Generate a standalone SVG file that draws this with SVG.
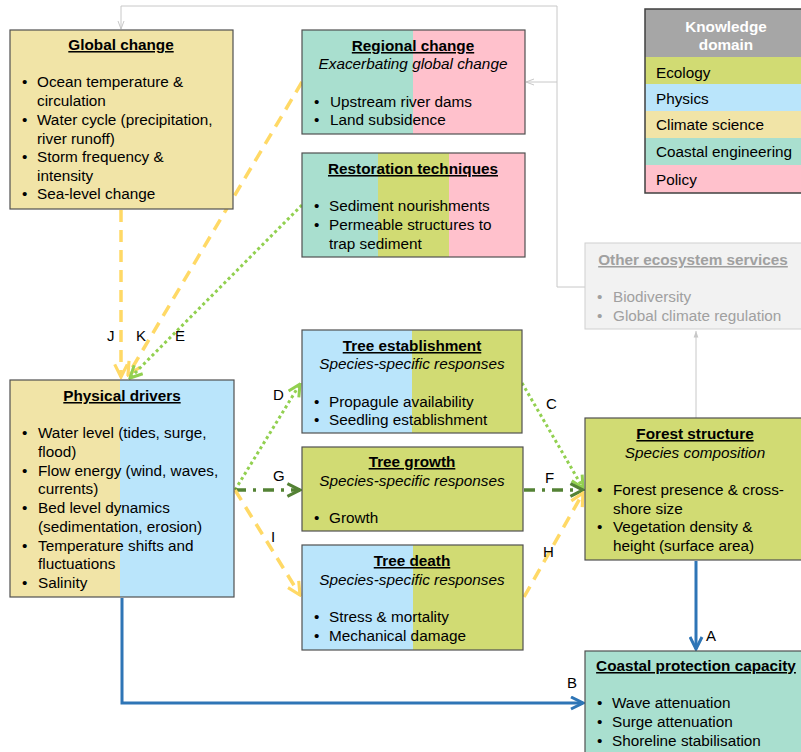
<svg xmlns="http://www.w3.org/2000/svg" width="801" height="752" viewBox="0 0 801 752">
<style>
text{font-family:"Liberation Sans",Arial,sans-serif;font-size:15.3px;fill:#000}
.t{font-weight:bold;text-decoration:underline;text-anchor:middle}
.s{font-style:italic;text-anchor:middle}
.c{text-anchor:middle}
.g{fill:#a0a0a0}
.box{fill:none;stroke:#505050;stroke-width:1.2}
.clim{fill:#f1e4a7}.phys{fill:#bae5fb}.eco{fill:#d1db73}.coast{fill:#a9dfcf}.pol{fill:#ffc1cc}
.yel{stroke:#ffd966;stroke-width:3.5;fill:none;stroke-dasharray:12 8}
.ltg{stroke:#92d050;stroke-width:3;fill:none;stroke-dasharray:3 3}
.dkg{stroke:#548235;stroke-width:3.5;fill:none;stroke-dasharray:11 7 3 7}
.blu{stroke:#2e75b6;stroke-width:3;fill:none}
.gry{stroke:#c8c8c8;stroke-width:1;fill:none}
.lbl{font-size:15px}
</style>
<defs>
<marker id="mY" viewBox="0 0 10 10" refX="9" refY="5" markerWidth="4.5" markerHeight="4.5" orient="auto"><path d="M1,1 L9,5 L1,9" fill="none" stroke="#ffd966" stroke-width="2"/></marker>
<marker id="mL" viewBox="0 0 10 10" refX="9" refY="5" markerWidth="5" markerHeight="5" orient="auto"><path d="M1,1 L9,5 L1,9" fill="none" stroke="#92d050" stroke-width="2"/></marker>
<marker id="mD" viewBox="0 0 10 10" refX="9" refY="5" markerWidth="4.5" markerHeight="4.5" orient="auto"><path d="M1,1 L9,5 L1,9" fill="none" stroke="#548235" stroke-width="2"/></marker>
<marker id="mB" viewBox="0 0 10 10" refX="9" refY="5" markerWidth="5" markerHeight="5" orient="auto"><path d="M1,1 L9,5 L1,9" fill="none" stroke="#2e75b6" stroke-width="2"/></marker>
<marker id="mG" viewBox="0 0 10 10" refX="9" refY="5" markerWidth="10" markerHeight="10" orient="auto"><path d="M1,2 L9,5 L1,8" fill="none" stroke="#c8c8c8" stroke-width="1"/></marker>
<marker id="mGf" viewBox="0 0 10 10" refX="9" refY="5" markerWidth="8" markerHeight="8" orient="auto"><path d="M1,2 L9,5 L1,8 Z" fill="#c8c8c8"/></marker>
</defs>

<g id="connectors">
<polyline class="gry" points="585,287 557,287 557,6 121,6 121,29" marker-end="url(#mG)"/>
<line class="gry" x1="557" y1="82" x2="526" y2="82" marker-end="url(#mG)"/>
<line class="gry" x1="696" y1="418" x2="696" y2="331" marker-end="url(#mGf)"/>
<line class="yel" x1="121" y1="210" x2="121" y2="377" marker-end="url(#mY)"/>
<line class="yel" x1="302" y1="82" x2="128" y2="375" marker-end="url(#mY)"/>
<line class="ltg" x1="302" y1="205" x2="130" y2="378" marker-end="url(#mL)"/>
<line class="ltg" x1="235" y1="490" x2="300" y2="384" marker-end="url(#mL)"/>
<line class="dkg" x1="235" y1="490" x2="300" y2="490" marker-end="url(#mD)"/>
<line class="yel" x1="235" y1="490" x2="300" y2="595" marker-end="url(#mY)"/>
<line class="ltg" x1="522" y1="383" x2="583" y2="488" marker-end="url(#mL)"/>
<line class="dkg" x1="524" y1="490" x2="583" y2="490" marker-end="url(#mD)"/>
<line class="yel" x1="524" y1="597" x2="583" y2="493" marker-end="url(#mY)"/>
<line class="blu" x1="696" y1="561" x2="696" y2="649" marker-end="url(#mB)"/>
<polyline class="blu" points="122,598 122,703 583,703" marker-end="url(#mB)"/>
<text class="lbl" x="107" y="341">J</text>
<text class="lbl" x="136" y="341">K</text>
<text class="lbl" x="175" y="341">E</text>
<text class="lbl" x="273" y="400">D</text>
<text class="lbl" x="273" y="481">G</text>
<text class="lbl" x="271" y="542">I</text>
<text class="lbl" x="546" y="409">C</text>
<text class="lbl" x="545" y="483">F</text>
<text class="lbl" x="543" y="557">H</text>
<text class="lbl" x="706" y="641">A</text>
<text class="lbl" x="567" y="688">B</text>
</g>

<g id="global-change">
<rect class="clim" x="10" y="30" width="223" height="179"/>
<rect class="box" x="10" y="30" width="223" height="179"/>
<text class="t" x="121" y="50">Global change</text>
<text x="22" y="87">•</text><text x="37" y="87">Ocean temperature &amp;</text>
<text x="37" y="106">circulation</text>
<text x="22" y="125">•</text><text x="37" y="125">Water cycle (precipitation,</text>
<text x="37" y="144">river runoff)</text>
<text x="22" y="162">•</text><text x="37" y="162">Storm frequency &amp;</text>
<text x="37" y="181">intensity</text>
<text x="22" y="199">•</text><text x="37" y="199">Sea-level change</text>
</g>

<g id="regional-change">
<rect class="coast" x="302" y="30" width="111" height="104"/>
<rect class="pol" x="413" y="30" width="112" height="104"/>
<rect class="box" x="302" y="30" width="223" height="104"/>
<text class="t" x="413" y="51">Regional change</text>
<text class="s" x="413" y="69">Exacerbating global change</text>
<text x="314" y="107">•</text><text x="330" y="107">Upstream river dams</text>
<text x="314" y="125">•</text><text x="330" y="125">Land subsidence</text>
</g>

<g id="restoration">
<rect class="coast" x="302" y="153" width="76" height="104"/>
<rect class="eco" x="378" y="153" width="71" height="104"/>
<rect class="pol" x="449" y="153" width="76" height="104"/>
<rect class="box" x="302" y="153" width="223" height="104"/>
<text class="t" x="413" y="174">Restoration techniques</text>
<text x="314" y="211">•</text><text x="329" y="211">Sediment nourishments</text>
<text x="314" y="230">•</text><text x="329" y="230">Permeable structures to</text>
<text x="329" y="249">trap sediment</text>
</g>

<g id="legend">
<rect x="645" y="9" width="160" height="48" fill="#a6a6a6"/>
<rect class="eco" x="645" y="57" width="160" height="27"/>
<rect class="phys" x="645" y="84" width="160" height="27"/>
<rect class="clim" x="645" y="111" width="160" height="27"/>
<rect class="coast" x="645" y="138" width="160" height="27"/>
<rect class="pol" x="645" y="165" width="160" height="28"/>
<rect x="645" y="9" width="160" height="184" fill="none" stroke="#404040" stroke-width="1.5"/>
<text class="c" x="726" y="32" style="fill:#fff;font-weight:bold">Knowledge</text>
<text class="c" x="726" y="50" style="fill:#fff;font-weight:bold">domain</text>
<text x="656" y="78">Ecology</text>
<text x="656" y="104">Physics</text>
<text x="656" y="130">Climate science</text>
<text x="656" y="157">Coastal engineering</text>
<text x="656" y="185">Policy</text>
</g>

<g id="other-services">
<rect x="585" y="243" width="220" height="86" fill="#f2f2f2" stroke="#d0d0d0" stroke-width="1"/>
<text class="t g" x="693" y="265">Other ecosystem services</text>
<text class="g" x="597" y="302">•</text><text class="g" x="613" y="302">Biodiversity</text>
<text class="g" x="597" y="321">•</text><text class="g" x="613" y="321">Global climate regulation</text>
</g>

<g id="physical-drivers">
<rect class="clim" x="10" y="380" width="110" height="217"/>
<rect class="phys" x="120" y="380" width="114" height="217"/>
<rect class="box" x="10" y="380" width="224" height="217"/>
<text class="t" x="122" y="401">Physical drivers</text>
<text x="22" y="438">•</text><text x="38" y="438">Water level (tides, surge,</text>
<text x="38" y="457">flood)</text>
<text x="22" y="476">•</text><text x="38" y="476">Flow energy (wind, waves,</text>
<text x="38" y="494">currents)</text>
<text x="22" y="513">•</text><text x="38" y="513">Bed level dynamics</text>
<text x="38" y="532">(sedimentation, erosion)</text>
<text x="22" y="551">•</text><text x="38" y="551">Temperature shifts and</text>
<text x="38" y="569">fluctuations</text>
<text x="22" y="588">•</text><text x="38" y="588">Salinity</text>
</g>

<g id="tree-establishment">
<rect class="phys" x="302" y="330" width="110" height="103"/>
<rect class="eco" x="412" y="330" width="110" height="103"/>
<rect class="box" x="302" y="330" width="220" height="103"/>
<text class="t" x="412" y="351">Tree establishment</text>
<text class="s" x="412" y="369">Species-specific responses</text>
<text x="314" y="407">•</text><text x="329" y="407">Propagule availability</text>
<text x="314" y="425">•</text><text x="329" y="425">Seedling establishment</text>
</g>

<g id="tree-growth">
<rect class="eco" x="302" y="447" width="221" height="84"/>
<rect class="box" x="302" y="447" width="221" height="84"/>
<text class="t" x="412" y="467">Tree growth</text>
<text class="s" x="412" y="486">Species-specific responses</text>
<text x="314" y="523">•</text><text x="329" y="523">Growth</text>
</g>

<g id="tree-death">
<rect class="phys" x="302" y="545" width="111" height="105"/>
<rect class="eco" x="413" y="545" width="110" height="105"/>
<rect class="box" x="302" y="545" width="221" height="105"/>
<text class="t" x="412" y="566">Tree death</text>
<text class="s" x="412" y="585">Species-specific responses</text>
<text x="314" y="622">•</text><text x="329" y="622">Stress &amp; mortality</text>
<text x="314" y="641">•</text><text x="329" y="641">Mechanical damage</text>
</g>

<g id="forest-structure">
<rect class="eco" x="585" y="418" width="220" height="142"/>
<rect class="box" x="585" y="418" width="220" height="142"/>
<text class="t" x="695" y="439">Forest structure</text>
<text class="s" x="695" y="458">Species composition</text>
<text x="597" y="495">•</text><text x="613" y="495">Forest presence &amp; cross-</text>
<text x="613" y="514">shore size</text>
<text x="597" y="532">•</text><text x="613" y="532">Vegetation density &amp;</text>
<text x="613" y="551">height (surface area)</text>
</g>

<g id="coastal-protection">
<rect class="coast" x="585" y="651" width="220" height="110"/>
<rect class="box" x="585" y="651" width="220" height="110"/>
<text class="t" x="696" y="671">Coastal protection capacity</text>
<text x="597" y="708">•</text><text x="612" y="708">Wave attenuation</text>
<text x="597" y="727">•</text><text x="612" y="727">Surge attenuation</text>
<text x="597" y="746">•</text><text x="612" y="746">Shoreline stabilisation</text>
</g>
</svg>
